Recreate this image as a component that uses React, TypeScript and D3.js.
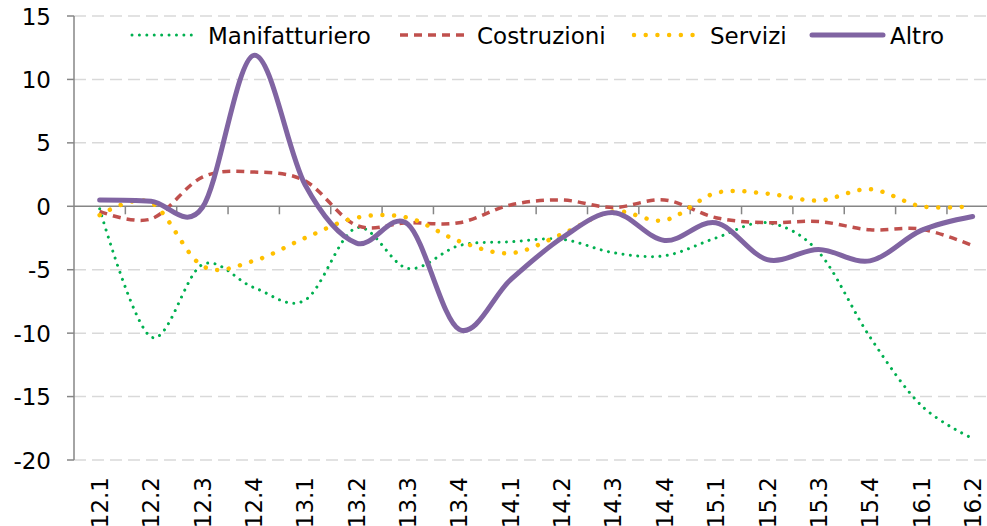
import React from "react";
import * as d3 from "d3";

const categories = ["12.1","12.2","12.3","12.4","13.1","13.2","13.3","13.4","14.1","14.2","14.3","14.4","15.1","15.2","15.3","15.4","16.1","16.2"];
const manifatturiero = [-0.2,-10.3,-4.6,-6.4,-7.4,-1.7,-4.9,-3.1,-2.8,-2.6,-3.65,-3.9,-2.5,-1.3,-3.6,-10.3,-15.7,-18.3];
const costruzioni = [-0.4,-1.0,2.3,2.7,2.0,-1.5,-1.3,-1.3,0.1,0.5,-0.1,0.5,-0.9,-1.3,-1.2,-1.85,-1.8,-3.1];
const servizi = [-0.7,0.3,-4.7,-4.3,-2.5,-0.9,-0.9,-2.75,-3.7,-2.2,-0.4,-1.1,1.05,1.0,0.45,1.35,0.0,0.0];
const altro = [0.5,0.4,-0.1,11.9,1.7,-2.9,-1.4,-9.7,-5.8,-2.5,-0.5,-2.7,-1.3,-4.2,-3.4,-4.3,-1.9,-0.8];
const yTicks = [15,10,5,0,-5,-10,-15,-20];

const W = 987, H = 526;
const FONT = "'DejaVu Sans', Verdana, sans-serif";

type S = { name: string; values: number[]; color: string; width: number; dash: string; cap: string; lx0: number; lx1: number; tx: number };
const series: S[] = [
  { name: "Manifatturiero", values: manifatturiero, color: "#00B050", width: 3, dash: "0.01 7.4", cap: "round", lx0: 132, lx1: 193, tx: 208 },
  { name: "Costruzioni", values: costruzioni, color: "#C0504D", width: 3.5, dash: "8 6", cap: "butt", lx0: 400, lx1: 470, tx: 477 },
  { name: "Servizi", values: servizi, color: "#FFC000", width: 4.5, dash: "0.01 11.7", cap: "round", lx0: 634, lx1: 697, tx: 710 },
  { name: "Altro", values: altro, color: "#8064A2", width: 5, dash: "", cap: "round", lx0: 812, lx1: 883, tx: 890 },
];

export default function App() {
  const x = d3.scaleBand<string>().domain(categories).range([74, 74 + 18 * 51.35]).padding(0);
  const bw = x.bandwidth();
  const y = d3.scaleLinear().domain([-20, 15]).range([460, 16]);
  const cx = (c: string) => (x(c) as number) + bw / 2;
  const line = d3.line<number>().x((_, i) => cx(categories[i])).y(v => y(v)).curve(d3.curveCatmullRom.alpha(0));
  const boundaries = categories.map(c => x(c) as number).slice(1).concat([(x(categories[17]) as number) + bw]);

  return (
    <svg width={W} height={H} style={{ position: "absolute", left: 0, top: 0, background: "#fff" }} fontFamily={FONT}>
      {yTicks.filter(t => t !== 0).map(t => (
        <line key={"g" + t} x1={74} x2={W} y1={y(t)} y2={y(t)} stroke="#D9D9D9" strokeWidth={1.5} strokeDasharray="12 6" />
      ))}
      <line x1={74} x2={74} y1={y(15)} y2={y(-20)} stroke="#868686" strokeWidth={1.5} />
      {yTicks.map(t => (
        <g key={"t" + t}>
          <line x1={67} x2={74} y1={y(t)} y2={y(t)} stroke="#868686" strokeWidth={1.5} />
          <text x={51} y={y(t)} dy="0.37em" textAnchor="end" fontSize={23} fill="#000">{t}</text>
        </g>
      ))}
      <line x1={74} x2={W} y1={y(0)} y2={y(0)} stroke="#868686" strokeWidth={1.5} />
      {boundaries.map((b, i) => (
        <line key={"xt" + i} x1={b} x2={b} y1={y(0)} y2={y(0) + 8} stroke="#868686" strokeWidth={1.5} />
      ))}
      {categories.map(c => (
        <text key={"xl" + c} transform={`translate(${cx(c)},477) rotate(-90)`} dy="0.36em" textAnchor="end" fontSize={23} fill="#000">{c}</text>
      ))}
      {series.map(s => (
        <path key={s.name} d={line(s.values) as string} fill="none" stroke={s.color} strokeWidth={s.width}
          strokeDasharray={s.dash || undefined} strokeLinecap={s.cap as any} strokeLinejoin="round" />
      ))}
      {series.map(s => (
        <g key={"lg" + s.name}>
          <line x1={s.lx0} x2={s.lx1} y1={35} y2={35} stroke={s.color} strokeWidth={s.width}
            strokeDasharray={s.dash || undefined} strokeLinecap={s.cap as any} />
          <text x={s.tx} y={35} dy="0.37em" fontSize={23} fill="#000">{s.name}</text>
        </g>
      ))}
    </svg>
  );
}
